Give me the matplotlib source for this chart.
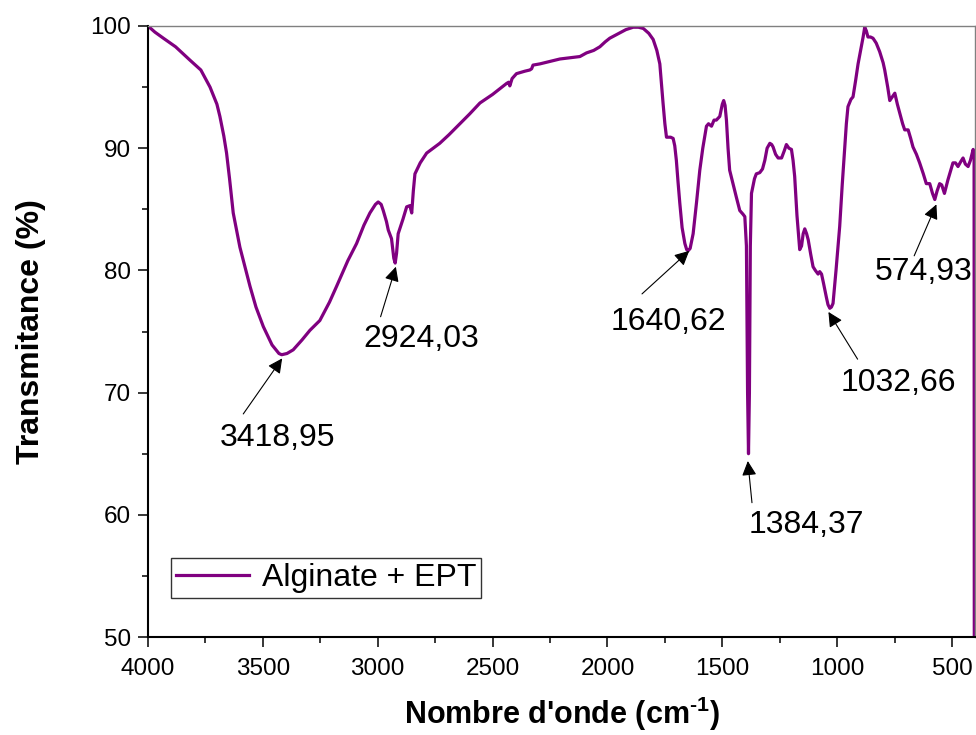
import matplotlib
matplotlib.use("Agg")
import matplotlib.pyplot as plt
from matplotlib.ticker import MultipleLocator

plt.rcParams['font.family'] = ['Liberation Sans', 'DejaVu Sans']
plt.rcParams['mathtext.fontset'] = 'custom'
plt.rcParams['mathtext.rm'] = 'Liberation Sans:bold'
plt.rcParams['mathtext.bf'] = 'Liberation Sans:bold'

# --- data ---
wavenumber = [4000, 3970, 3933, 3880, 3817, 3770, 3730, 3700, 3687, 3670, 3658, 3645, 3629,
              3600, 3556, 3530, 3498, 3460, 3430, 3418, 3395, 3368, 3330, 3295, 3252, 3210,
              3179, 3130, 3092, 3060, 3034, 3010, 2998, 2985, 2976, 2962, 2954, 2940, 2930,
              2924, 2918, 2911, 2890, 2874, 2860, 2852, 2845, 2838, 2815, 2787, 2730, 2690,
              2642, 2600, 2555, 2500, 2439, 2430, 2425, 2415, 2396, 2360, 2338, 2330, 2324,
              2294, 2250, 2207, 2164, 2120, 2091, 2060, 2033, 2010, 1990, 1950, 1920, 1888,
              1865, 1844, 1820, 1801, 1785, 1772, 1765, 1758, 1750, 1743, 1725, 1714, 1707,
              1700, 1693, 1685, 1675, 1663, 1655, 1649, 1640, 1627, 1612, 1598, 1585, 1569,
              1560, 1547, 1536, 1526, 1511, 1500, 1494, 1488, 1482, 1475, 1468, 1455, 1439,
              1424, 1410, 1402, 1395, 1390, 1386, 1382, 1378, 1373, 1360, 1352, 1337, 1325,
              1315, 1305, 1293, 1285, 1279, 1268, 1257, 1242, 1230, 1221, 1210, 1199, 1192,
              1185, 1175, 1163, 1155, 1148, 1141, 1133, 1126, 1115, 1105, 1095, 1083, 1076,
              1068, 1060, 1047, 1040, 1032, 1025, 1018, 1005, 989, 978, 967, 960, 953, 940,
              931, 920, 909, 895, 887, 880, 873, 866, 855, 844, 830, 815, 800, 793, 780, 771,
              760, 749, 738, 728, 715, 706, 691, 680, 670, 655, 641, 625, 612, 597, 585, 575,
              565, 554, 545, 533, 518, 496, 485, 474, 462, 452, 442, 430, 420, 408, 404, 403]
transmittance = [100.0, 99.5, 99.0, 98.3, 97.2, 96.4, 95.0, 93.6, 92.6, 91.0, 89.6, 87.5, 84.7,
                 81.9, 78.7, 77.0, 75.4, 73.9, 73.2, 73.1, 73.2, 73.5, 74.3, 75.1, 75.9, 77.4,
                 78.7, 80.8, 82.2, 83.7, 84.7, 85.4, 85.6, 85.4, 84.9, 84.0, 83.3, 82.6, 81.0,
                 80.6, 81.4, 83.0, 84.2, 85.2, 85.3, 84.7, 86.5, 87.9, 88.8, 89.6, 90.4, 91.1,
                 92.0, 92.8, 93.7, 94.4, 95.3, 95.4, 95.1, 95.7, 96.1, 96.3, 96.4, 96.5, 96.8,
                 96.9, 97.1, 97.3, 97.4, 97.5, 97.8, 98.0, 98.3, 98.7, 99.0, 99.4, 99.7, 99.9,
                 99.9, 99.8, 99.4, 98.9, 98.0, 96.9, 95.3, 93.7, 92.0, 90.9, 90.9, 90.8, 90.2,
                 89.0, 87.3, 85.5, 83.5, 82.2, 81.7, 81.6, 81.8, 83.0, 85.6, 88.2, 90.0, 91.8,
                 92.0, 91.8, 92.3, 92.3, 92.6, 93.6, 93.9, 93.5, 92.3, 90.0, 88.2, 87.2, 86.0,
                 84.9, 84.6, 84.4, 82.0, 70.0, 65.0, 70.0, 82.0, 86.3, 87.5, 87.9, 88.0, 88.3,
                 89.0, 90.0, 90.4, 90.3, 90.1, 89.5, 89.2, 89.2, 89.8, 90.3, 90.0, 89.9, 89.0,
                 87.7, 84.5, 81.7, 82.0, 83.0, 83.4, 83.0, 82.5, 81.3, 80.3, 80.0, 79.7, 79.9,
                 79.7, 79.0, 77.8, 77.2, 76.9, 77.0, 77.3, 80.0, 83.6, 87.0, 90.1, 92.0, 93.4, 94.0,
                 94.2, 95.5, 96.9, 98.3, 99.1, 99.9, 99.6, 99.1, 99.1, 99.0, 98.6, 97.9, 97.0, 96.4,
                 95.0, 93.9, 94.2, 94.5, 93.6, 92.9, 92.0, 91.5, 91.5, 90.8, 90.1, 89.5, 88.8,
                 87.9, 87.1, 87.1, 86.3, 85.8, 86.5, 87.1, 87.0, 86.3, 87.4, 88.8, 88.8, 88.5,
                 88.9, 89.2, 88.7, 88.5, 89.0, 89.9, 89.4, 45.0]

series_label = "Alginate + EPT"
peak_labels = ["3418,95", "2924,03", "1640,62", "1384,37", "1032,66", "574,93"]
peak_wn = [3416, 2921, 1644, 1389, 1038, 568]
peak_T = [72.8, 80.3, 81.6, 64.4, 76.6, 85.4]
# text offsets (points) of the label centres relative to the arrow tips
label_dx = [-3, 18, -15, 42, 50, -9]
label_dy = [-57, -52, -51, -46, -51, -49]
# arrow tail offsets (points) relative to the arrow tips
tail_dx = [-28, -11, -34, 3, 21, -16]
tail_dy = [-40, -36, -31, -30, -34, -37]

fig = plt.figure(figsize=(9.76, 7.35), dpi=100)
ax = fig.add_axes([148/976, 1-637/735, (975-148)/976, (637-26)/735])

ax.plot(wavenumber, transmittance, color='#800080', lw=2.3, label=series_label,
        solid_joinstyle='round')

ax.set_xlim(4000, 400)
ax.set_ylim(50, 100)
ax.xaxis.set_major_locator(MultipleLocator(500))
ax.xaxis.set_minor_locator(MultipleLocator(250))
ax.yaxis.set_major_locator(MultipleLocator(10))
ax.yaxis.set_minor_locator(MultipleLocator(5))
ax.tick_params(axis='both', which='major', direction='out', length=7, width=1.1,
               labelsize=17.5)
ax.tick_params(axis='x', which='major', pad=8)
ax.tick_params(axis='y', which='major', pad=5)
ax.tick_params(axis='both', which='minor', direction='out', length=4, width=1.1)
ax.tick_params(top=False, right=False, which='both')

for s in ['left', 'bottom']:
    ax.spines[s].set_linewidth(1.5)
    ax.spines[s].set_color('black')
for s in ['top', 'right']:
    ax.spines[s].set_linewidth(1.0)
    ax.spines[s].set_color('#808080')

ax.set_xlabel("Nombre d'onde (cm$^{\\text{-}1}$)", fontsize=22, fontweight='bold',
              labelpad=11)
ax.set_ylabel("Transmitance (%)", fontsize=23, fontweight='bold', labelpad=32)

for lab, x, y, ldx, ldy, tdx, tdy in zip(peak_labels, peak_wn, peak_T, label_dx, label_dy,
                                          tail_dx, tail_dy):
    ax.annotate("", xy=(x, y), xycoords='data', xytext=(tdx, tdy), textcoords='offset points',
                arrowprops=dict(arrowstyle='-|>', color='black', lw=0.8, mutation_scale=22,
                                shrinkA=0, shrinkB=0))
    ax.annotate(lab, xy=(x, y), xycoords='data', xytext=(ldx, ldy), textcoords='offset points',
                ha='center', va='center', fontsize=23)

leg = ax.legend(loc='lower left', bbox_to_anchor=(0.028, 0.064), borderaxespad=0,
                fontsize=23, frameon=True, fancybox=False, handlelength=2.3,
                borderpad=0.15, handletextpad=0.4)
leg.get_frame().set_edgecolor('black')
leg.get_frame().set_linewidth(1.0)

fig.savefig("out.png", dpi=100)
